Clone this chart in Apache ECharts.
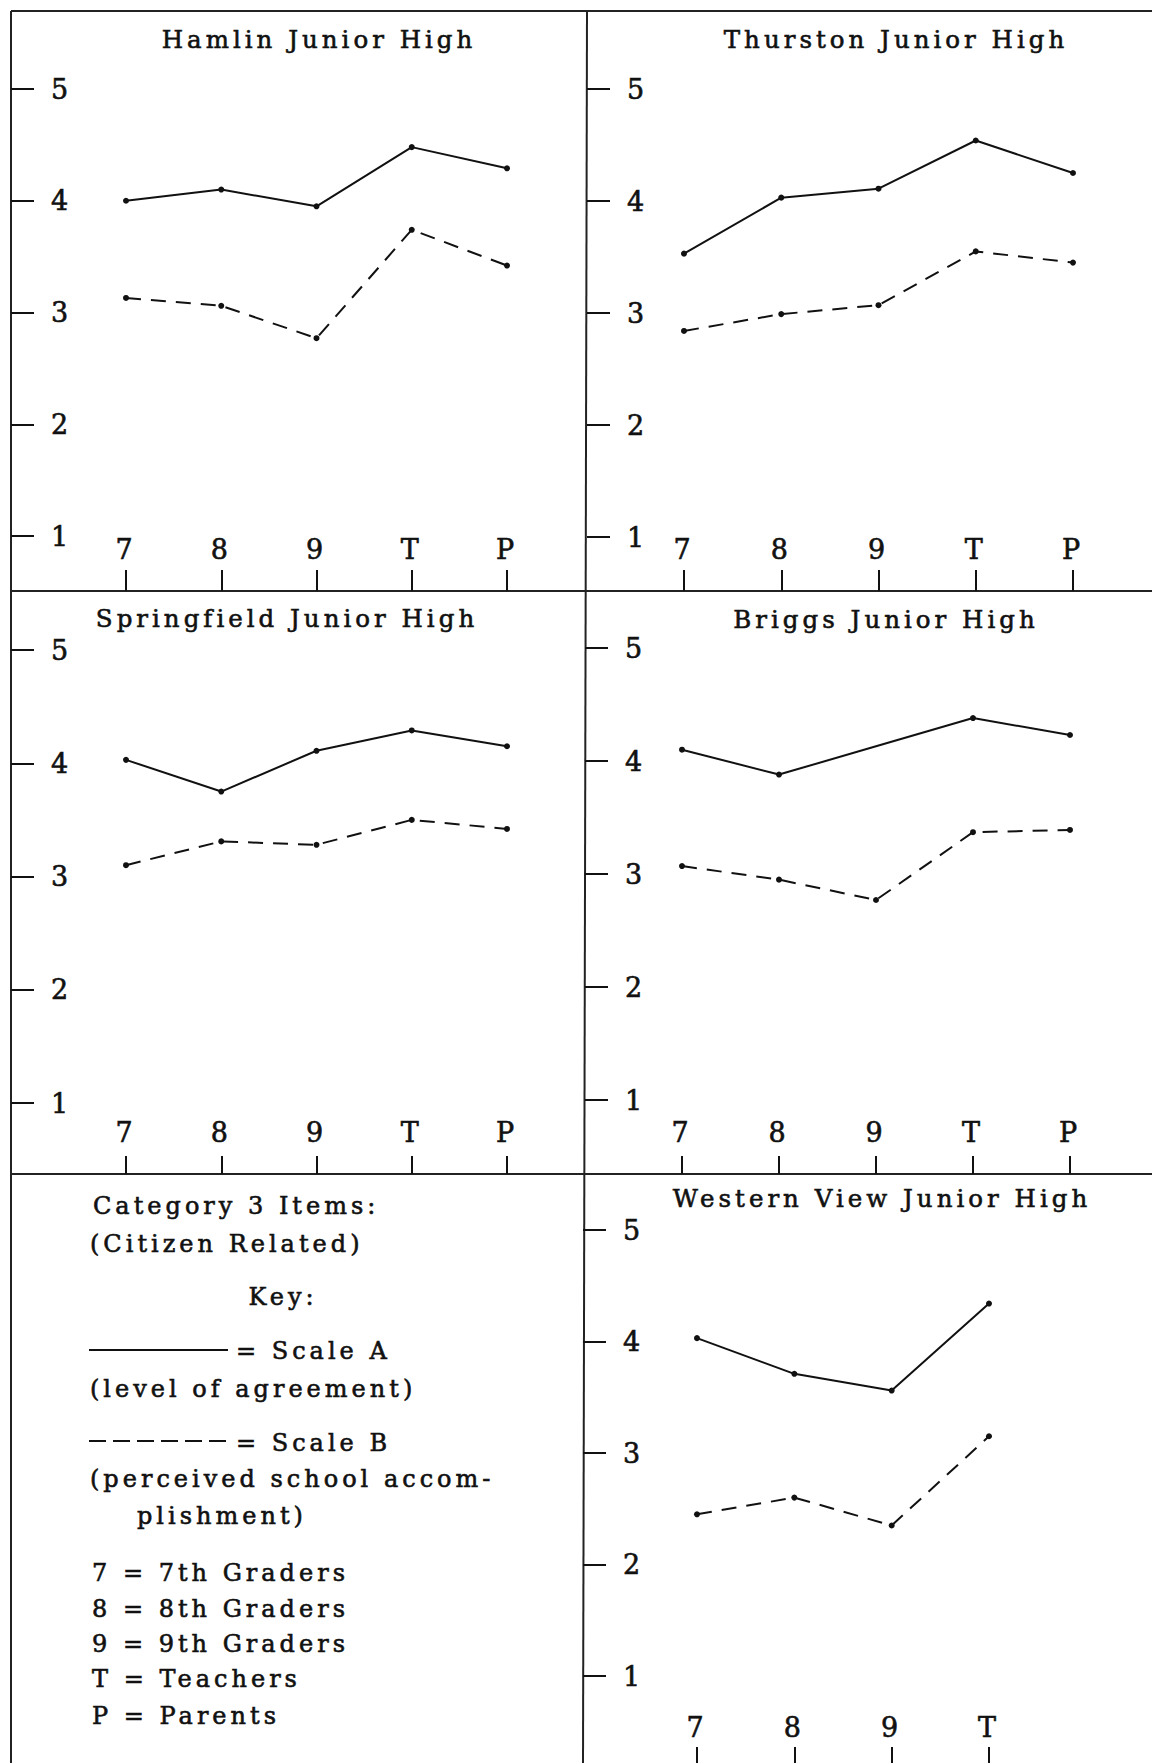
<!DOCTYPE html>
<html><head><meta charset="utf-8">
<script src="https://cdn.jsdelivr.net/npm/echarts@6/dist/echarts.min.js"></script>
<style>
html,body{margin:0;padding:0;background:#fff;}
#chart{width:1152px;height:1763px;}
#chart text{letter-spacing:4px;}
</style></head><body><div id="chart"></div>
<script>
// ---- data ----
const categories = ['7', '8', '9', 'T', 'P'];
const categoriesWestern = ['7', '8', '9', 'T'];
const yTickMin = 1, yTickMax = 5, yTickStep = 1;
const schoolNames = ['Hamlin Junior High', 'Thurston Junior High', 'Springfield Junior High', 'Briggs Junior High', 'Western View Junior High'];
const hamlinA = [4.00, 4.10, 3.95, 4.48, 4.29];
const hamlinB = [3.13, 3.06, 2.77, 3.74, 3.42];
const thurstonA = [3.53, 4.03, 4.11, 4.54, 4.25];
const thurstonB = [2.84, 2.99, 3.07, 3.55, 3.45];
const springfieldA = [4.03, 3.75, 4.11, 4.29, 4.15];
const springfieldB = [3.10, 3.31, 3.28, 3.50, 3.42];
const briggsA = [4.10, 3.88, 4.13, 4.38, 4.23];
const briggsB = [3.07, 2.95, 2.77, 3.37, 3.39];
const briggsAUnmarked = [2]; // the line passes 9 without a dot
const westernA = [4.03, 3.71, 3.56, 4.34];
const westernB = [2.45, 2.60, 2.35, 3.15];
const keyHeading = ['Category 3 Items:', '(Citizen Related)', 'Key:'];
const keyScaleA = ['= Scale A', '(level of agreement)'];
const keyScaleB = ['= Scale B', '(perceived school accom-', 'plishment)'];
const keyGroups = ['7 = 7th Graders', '8 = 8th Graders', '9 = 9th Graders', 'T = Teachers', 'P = Parents'];

// ---- layout ----
const FONT = 'DejaVu Serif';
const INK = '#111';
const THICK = 0.6;
const panels = [
  { name: schoolNames[0], cats: categories, a: hamlinA, b: hamlinB, left: 126, width: 381, top: 89, height: 447, border: 11, axisY: 591, tx: 314, tt: 22, lm: 28, tl: 21 },
  { name: schoolNames[1], cats: categories, a: thurstonA, b: thurstonB, left: 684, width: 389, top: 89, height: 448, border: 587, axisY: 591, tx: 891, tt: 22, lm: 28, tl: 21 },
  { name: schoolNames[2], cats: categories, a: springfieldA, b: springfieldB, left: 126, width: 381, top: 650, height: 453, border: 11, axisY: 1174, tx: 282, tt: 601, lm: 28, tl: 18 },
  { name: schoolNames[3], cats: categories, a: briggsA, b: briggsB, left: 682, width: 388, top: 648, height: 452, border: 585, axisY: 1174, tx: 881, tt: 602, lm: 28, tl: 18, aNoDot: briggsAUnmarked },
  { name: schoolNames[4], cats: categoriesWestern, a: westernA, b: westernB, left: 697, width: 292, top: 1230, height: 446, border: 583, axisY: 1763, tx: 877, tt: 1181, lm: 22, tl: 16 }
];

const grid = [], xAxis = [], yAxis = [], series = [], title = [];
panels.forEach((p, i) => {
  grid.push({ left: p.left, top: p.top, width: p.width, height: p.height, containLabel: false });
  title.push({
    text: p.name, left: p.tx, top: p.tt, textAlign: 'center',
    textStyle: { fontFamily: FONT, fontSize: 24.5, fontWeight: 'normal', color: INK, textBorderColor: INK, textBorderWidth: THICK }
  });
  xAxis.push({
    type: 'category', gridIndex: i, data: p.cats, boundaryGap: false, position: 'bottom',
    offset: p.axisY - (p.top + p.height),
    axisLine: { show: false },
    axisTick: { show: true, inside: true, length: p.tl, lineStyle: { color: INK, width: 2 } },
    axisLabel: { inside: true, margin: p.lm, fontFamily: FONT, fontSize: 27, color: INK, interval: 0, textBorderColor: INK, textBorderWidth: THICK },
    splitLine: { show: false }
  });
  yAxis.push({
    type: 'value', gridIndex: i, min: yTickMin, max: yTickMax, interval: yTickStep, position: 'left',
    offset: p.left - p.border,
    axisLine: { show: false },
    axisTick: { show: true, inside: true, length: 23, lineStyle: { color: INK, width: 2 } },
    axisLabel: { inside: true, margin: 40, fontFamily: FONT, fontSize: 27, color: INK, textBorderColor: INK, textBorderWidth: THICK },
    splitLine: { show: false }
  });
  const aData = p.a.map((v, k) => (p.aNoDot && p.aNoDot.indexOf(k) >= 0) ? { value: v, symbol: 'none' } : v);
  series.push({
    type: 'line', xAxisIndex: i, yAxisIndex: i, data: aData, name: 'Scale A',
    symbol: 'circle', symbolSize: 6, itemStyle: { color: INK },
    lineStyle: { color: INK, width: 2, type: 'solid' }, animation: false, silent: true
  });
  series.push({
    type: 'line', xAxisIndex: i, yAxisIndex: i, data: p.b, name: 'Scale B',
    symbol: 'circle', symbolSize: 6, itemStyle: { color: INK },
    lineStyle: { color: INK, width: 2, type: [15, 10] }, animation: false, silent: true
  });
});

// panel frame
const frame = [
  [11, 11, 1152, 11], [11, 11, 11, 1763], [587, 11, 583, 1763],
  [11, 591, 1152, 591], [11, 1174, 1152, 1174]
];
const graphic = frame.map(s => ({
  type: 'line', shape: { x1: s[0], y1: s[1], x2: s[2], y2: s[3] },
  style: { stroke: '#222', lineWidth: 2 }, silent: true
}));

function keyText(t, x, y, align) {
  return { type: 'text', x: x, y: y, silent: true,
    style: { text: t, fill: INK, stroke: INK, lineWidth: THICK, font: '24px "' + FONT + '"', textAlign: align || 'left', textVerticalAlign: 'middle' } };
}
graphic.push(keyText(keyHeading[0], 93, 1206));
graphic.push(keyText(keyHeading[1], 90, 1244));
graphic.push(keyText(keyHeading[2], 283, 1297, 'center'));
graphic.push({ type: 'line', shape: { x1: 89, y1: 1350, x2: 228, y2: 1350 }, style: { stroke: INK, lineWidth: 2 }, silent: true });
graphic.push(keyText(keyScaleA[0], 236, 1351));
graphic.push(keyText(keyScaleA[1], 90, 1389));
graphic.push({ type: 'line', shape: { x1: 89, y1: 1441, x2: 228, y2: 1441 }, style: { stroke: INK, lineWidth: 2, lineDash: [17, 7] }, silent: true });
graphic.push(keyText(keyScaleB[0], 236, 1443));
graphic.push(keyText(keyScaleB[1], 90, 1479));
graphic.push(keyText(keyScaleB[2], 137, 1516));
const groupY = [1573, 1609, 1644, 1679, 1716];
keyGroups.forEach((t, k) => graphic.push(keyText(t, 92, groupY[k])));

const chart = echarts.init(document.getElementById('chart'), null, { renderer: 'svg' });
chart.setOption({
  backgroundColor: '#fff',
  animation: false,
  title: title,
  grid: grid,
  xAxis: xAxis,
  yAxis: yAxis,
  series: series,
  graphic: graphic
});
</script></body></html>
